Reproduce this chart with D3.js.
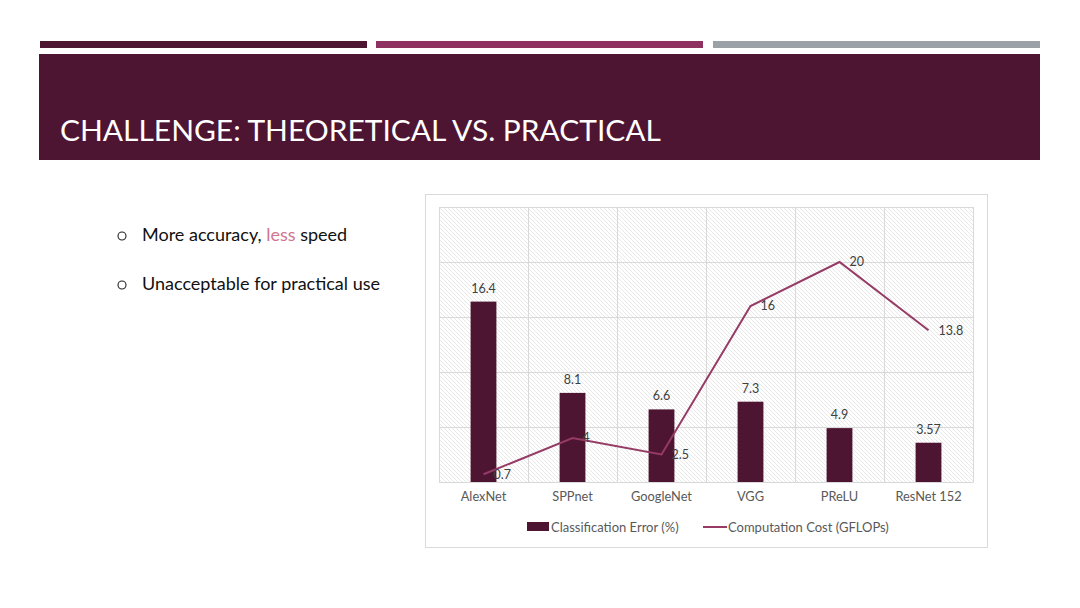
<!DOCTYPE html>
<html>
<head>
<meta charset="utf-8">
<script src="https://cdn.jsdelivr.net/npm/d3@7"></script>
<style>
  html, body { margin: 0; padding: 0; background: #fff; }
  svg { display: block; font-family: Lato, "Open Sans", sans-serif; }
</style>
</head>
<body>
<div id="slide"></div>
<script>
// chart data
const categories = ['AlexNet', 'SPPnet', 'GoogleNet', 'VGG', 'PReLU', 'ResNet 152'];
const errorValues = [16.4, 8.1, 6.6, 7.3, 4.9, 3.57];
const costValues = [0.7, 4, 2.5, 16, 20, 13.8];
const yTicks = [0, 5, 10, 15, 20, 25];
const seriesNames = ['Classification Error (%)', 'Computation Cost (GFLOPs)'];
const bullets = [['More accuracy, ', 'less', ' speed'], ['Unacceptable for practical use']];

const width = 1080, height = 608;
const dark = '#4e1532', magenta = '#8f3262', grey = '#9ca1a7';
const lineColor = '#963a66';
const plot = {left: 439, right: 973, top: 207, bottom: 482};
const barRatio = 0.29;

let svg = d3.select('#slide').append('svg').attr('width', width).attr('height', height);

// header strips
let strips = [[40, 367, dark], [376, 703, magenta], [713, 1040, grey]];
svg.selectAll('rect.strip').data(strips).enter().append('rect')
    .attr('class', 'strip')
    .attr('x', function(d){return d[0]})
    .attr('y', 41)
    .attr('width', function(d){return d[1]-d[0]})
    .attr('height', 7)
    .attr('fill', function(d){return d[2]});

svg.append('rect').attr('x', 39).attr('y', 54).attr('width', 1001).attr('height', 106).attr('fill', dark);
svg.append('text').attr('x', 60).attr('y', 141)
    .attr('fill', '#fff').attr('font-size', 29)
    .attr('textLength', 601).attr('lengthAdjust', 'spacingAndGlyphs')
    .text('CHALLENGE: THEORETICAL VS. PRACTICAL');

// bullets
bullets.forEach(function(parts, i){
    let y = 241 + i*49;
    svg.append('circle').attr('cx', 122).attr('cy', y-5).attr('r', 4)
        .attr('fill', 'none').attr('stroke', '#222').attr('stroke-width', 1.1);
    let t = svg.append('text').attr('x', 142).attr('y', y).attr('font-size', 18).attr('fill', '#111');
    parts.forEach(function(p){
        t.append('tspan').attr('fill', p == 'less' ? '#d0768f' : '#111').text(p);
    });
});

// chart frame
svg.append('rect').attr('x', 425.5).attr('y', 194.5).attr('width', 562).attr('height', 353)
    .attr('fill', '#fff').attr('stroke', '#d9d9d9');

let defs = svg.append('defs');
defs.append('pattern').attr('id', 'hatch').attr('patternUnits', 'userSpaceOnUse')
    .attr('width', 4).attr('height', 4)
    .append('path').attr('d', 'M-1,3 l2,2 M0,0 l4,4 M3,-1 l2,2')
    .attr('stroke', '#e2e2e2').attr('stroke-width', 0.8);

svg.append('rect').attr('x', plot.left).attr('y', plot.top)
    .attr('width', plot.right-plot.left).attr('height', plot.bottom-plot.top)
    .attr('fill', 'url(#hatch)');

let x = d3.scaleBand().domain(categories).range([plot.left, plot.right]).padding(0);
let y = d3.scaleLinear().domain([0, 25]).range([plot.bottom, plot.top]);

// horizontal gridlines
svg.append('g').attr('transform', 'translate('+plot.left+',0)')
    .call(d3.axisLeft(y).tickValues(yTicks).tickSize(-(plot.right-plot.left)).tickFormat(''))
    .call(function(g){
        g.select('.domain').remove();
        g.selectAll('line').attr('stroke', '#d9d9d9');
    });

// vertical gridlines at category boundaries
let bounds = categories.map(function(c){return x(c)}).concat([plot.right]);
svg.selectAll('line.vgrid').data(bounds).enter().append('line')
    .attr('class', 'vgrid')
    .attr('x1', function(d){return Math.round(d)+0.5}).attr('x2', function(d){return Math.round(d)+0.5})
    .attr('y1', plot.top).attr('y2', plot.bottom)
    .attr('stroke', '#d9d9d9');

// bars
let barW = x.bandwidth()*barRatio;
svg.selectAll('rect.bar').data(errorValues).enter().append('rect')
    .attr('class', 'bar')
    .attr('x', function(d, i){return x(categories[i]) + x.bandwidth()/2 - barW/2})
    .attr('y', function(d){return y(d)})
    .attr('width', barW)
    .attr('height', function(d){return y(0)-y(d)})
    .attr('fill', dark);

svg.selectAll('text.barLabel').data(errorValues).enter().append('text')
    .attr('class', 'barLabel')
    .attr('x', function(d, i){return x(categories[i]) + x.bandwidth()/2})
    .attr('y', function(d){return y(d)-9})
    .attr('text-anchor', 'middle').attr('font-size', 12.5).attr('fill', '#404040')
    .text(function(d){return d});

// x axis
svg.append('g').attr('transform', 'translate(0,'+plot.bottom+')')
    .call(d3.axisBottom(x).tickSize(0).tickPadding(10))
    .call(function(g){
        g.select('.domain').attr('stroke', '#d9d9d9');
        g.selectAll('text').attr('font-family', 'Lato, sans-serif').attr('font-size', 12.8).attr('fill', '#595959');
    });

// cost line
let line = d3.line()
    .x(function(d, i){return x(categories[i]) + x.bandwidth()/2})
    .y(function(d){return y(d)});
svg.append('path').datum(costValues).attr('d', line)
    .attr('fill', 'none').attr('stroke', lineColor).attr('stroke-width', 2);

svg.selectAll('text.lineLabel').data(costValues).enter().append('text')
    .attr('class', 'lineLabel')
    .attr('x', function(d, i){return x(categories[i]) + x.bandwidth()/2 + 10})
    .attr('y', function(d){return y(d)})
    .attr('dy', '0.35em').attr('font-size', 12.5).attr('fill', '#404040')
    .text(function(d){return d});

// legend
let legend = svg.append('g').attr('font-size', 13).attr('fill', '#595959');
legend.append('rect').attr('x', 527).attr('y', 522).attr('width', 22).attr('height', 9).attr('fill', dark);
legend.append('text').attr('x', 551).attr('y', 527).attr('dy', '0.35em').attr('fill', '#595959').text(seriesNames[0]);
legend.append('line').attr('x1', 703).attr('x2', 727).attr('y1', 527).attr('y2', 527)
    .attr('stroke', lineColor).attr('stroke-width', 2);
legend.append('text').attr('x', 728).attr('y', 527).attr('dy', '0.35em').attr('fill', '#595959').text(seriesNames[1]);
</script>
</body>
</html>
